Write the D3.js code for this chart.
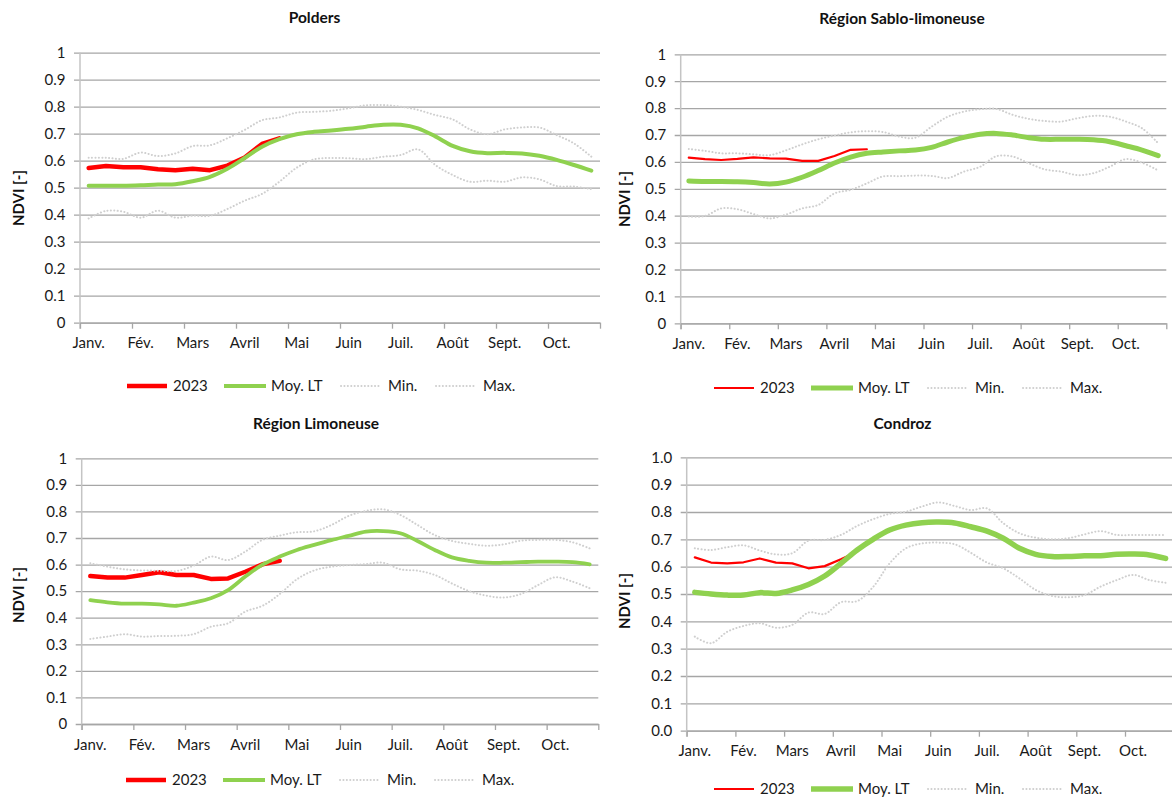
<!DOCTYPE html>
<html>
<head>
<meta charset="utf-8">
<script src="https://cdn.jsdelivr.net/npm/d3@7"></script>
<style>
  body { margin: 0; background: #fff; }
  svg { display: block; font-family: Lato, "Open Sans", sans-serif; }
</style>
</head>
<body>
<svg id="chart" width="1172" height="798"></svg>
<script>
// Month labels; each month is split in three dekads (10-day periods)
const months = ["Janv.", "Fév.", "Mars", "Avril", "Mai", "Juin", "Juil.", "Août", "Sept.", "Oct."];
const dekads = months.flatMap(m => [m + " 1", m + " 2", m + " 3"]);
const yTicks = [0, 0.1, 0.2, 0.3, 0.4, 0.5, 0.6, 0.7, 0.8, 0.9, 1];
const seriesNames = ["2023", "Moy. LT", "Min.", "Max."];
const regionTitles = ["Polders", "Région Sablo-limoneuse", "Région Limoneuse", "Condroz"];

// NDVI per dekad — Polders
const polders2023 = [0.573, 0.580, 0.576, 0.576, 0.568, 0.565, 0.570, 0.565, 0.582, 0.612, 0.662, 0.683];
const poldersMoy = [0.507, 0.507, 0.507, 0.509, 0.512, 0.513, 0.524, 0.540, 0.570, 0.610, 0.652, 0.680, 0.698, 0.707, 0.712, 0.718, 0.726, 0.733, 0.733, 0.720, 0.690, 0.655, 0.635, 0.628, 0.629, 0.627, 0.618, 0.603, 0.584, 0.563];
const poldersMin = [0.386, 0.414, 0.411, 0.389, 0.415, 0.389, 0.396, 0.396, 0.421, 0.452, 0.477, 0.522, 0.574, 0.605, 0.610, 0.609, 0.606, 0.615, 0.621, 0.642, 0.584, 0.547, 0.522, 0.526, 0.522, 0.538, 0.531, 0.506, 0.504, 0.495];
const poldersMax = [0.611, 0.611, 0.607, 0.630, 0.617, 0.627, 0.654, 0.657, 0.683, 0.714, 0.750, 0.760, 0.778, 0.781, 0.785, 0.794, 0.805, 0.806, 0.800, 0.788, 0.769, 0.753, 0.716, 0.698, 0.716, 0.723, 0.723, 0.695, 0.664, 0.615];

// NDVI per dekad — Région Sablo-limoneuse
const sablo2023 = [0.616, 0.610, 0.607, 0.611, 0.617, 0.613, 0.612, 0.604, 0.604, 0.622, 0.645, 0.647];
const sabloMoy = [0.529, 0.527, 0.527, 0.526, 0.523, 0.518, 0.525, 0.543, 0.568, 0.596, 0.618, 0.632, 0.637, 0.641, 0.644, 0.654, 0.674, 0.691, 0.703, 0.706, 0.700, 0.690, 0.684, 0.684, 0.684, 0.682, 0.675, 0.660, 0.644, 0.623];
const sabloMin = [0.397, 0.399, 0.427, 0.424, 0.406, 0.390, 0.404, 0.427, 0.440, 0.483, 0.496, 0.520, 0.546, 0.547, 0.549, 0.548, 0.540, 0.564, 0.582, 0.621, 0.620, 0.595, 0.572, 0.564, 0.551, 0.558, 0.582, 0.610, 0.597, 0.568];
const sabloMax = [0.648, 0.641, 0.632, 0.632, 0.628, 0.625, 0.643, 0.665, 0.684, 0.698, 0.710, 0.714, 0.711, 0.694, 0.690, 0.731, 0.768, 0.787, 0.796, 0.797, 0.775, 0.760, 0.752, 0.750, 0.762, 0.771, 0.768, 0.750, 0.725, 0.669];

// NDVI per dekad — Région Limoneuse
const limon2023 = [0.557, 0.551, 0.551, 0.561, 0.571, 0.561, 0.561, 0.546, 0.548, 0.573, 0.601, 0.614];
const limonMoy = [0.466, 0.458, 0.453, 0.453, 0.450, 0.445, 0.457, 0.473, 0.504, 0.555, 0.600, 0.630, 0.655, 0.674, 0.692, 0.708, 0.724, 0.726, 0.718, 0.689, 0.655, 0.627, 0.614, 0.607, 0.607, 0.609, 0.611, 0.611, 0.609, 0.601];
const limonMin = [0.320, 0.329, 0.338, 0.329, 0.331, 0.332, 0.338, 0.366, 0.379, 0.423, 0.445, 0.489, 0.545, 0.578, 0.592, 0.598, 0.602, 0.607, 0.582, 0.577, 0.561, 0.529, 0.500, 0.483, 0.476, 0.489, 0.523, 0.552, 0.536, 0.511];
const limonMax = [0.605, 0.592, 0.582, 0.578, 0.577, 0.576, 0.596, 0.630, 0.617, 0.649, 0.693, 0.709, 0.722, 0.725, 0.749, 0.783, 0.802, 0.808, 0.787, 0.749, 0.711, 0.689, 0.678, 0.671, 0.676, 0.690, 0.693, 0.693, 0.684, 0.661];

// NDVI per dekad — Condroz
const condroz2023 = [0.634, 0.615, 0.612, 0.616, 0.630, 0.615, 0.612, 0.594, 0.602, 0.627, 0.655];
const condrozMoy = [0.506, 0.500, 0.496, 0.496, 0.505, 0.502, 0.515, 0.535, 0.566, 0.612, 0.661, 0.701, 0.734, 0.752, 0.761, 0.763, 0.760, 0.746, 0.730, 0.704, 0.667, 0.645, 0.637, 0.637, 0.640, 0.640, 0.645, 0.646, 0.643, 0.630];
const condrozMin = [0.344, 0.320, 0.362, 0.383, 0.393, 0.377, 0.387, 0.432, 0.427, 0.470, 0.474, 0.527, 0.612, 0.667, 0.685, 0.688, 0.682, 0.651, 0.615, 0.594, 0.557, 0.515, 0.493, 0.488, 0.496, 0.527, 0.551, 0.570, 0.551, 0.541];
const condrozMax = [0.667, 0.661, 0.671, 0.678, 0.659, 0.645, 0.649, 0.695, 0.698, 0.716, 0.749, 0.774, 0.793, 0.801, 0.820, 0.835, 0.822, 0.807, 0.813, 0.759, 0.722, 0.706, 0.700, 0.704, 0.718, 0.730, 0.716, 0.716, 0.716, 0.716];

const RED = "#ff0000", GREEN = "#8fd14f", GREY = "#cfcfcf";
const LABEL_SIZE = "15px", TITLE_SIZE = "15.5px";

// Panel geometry and styling
const panels = [
  { title: regionTitles[0], data: [polders2023, poldersMoy, poldersMin, poldersMax],
    left: 80, right: 600, top: 52.7, bottom: 322.7, titleX: 314.5, titleY: 18,
    ylabX: 18.5, ylabY: 198, legendX: 127, legendY: 386, redW: 4.5, greenW: 4, fmt: d3.format("") },
  { title: regionTitles[1], data: [sablo2023, sabloMoy, sabloMin, sabloMax],
    left: 680.7, right: 1166.3, top: 54.3, bottom: 323.3, titleX: 902, titleY: 19,
    ylabX: 624.5, ylabY: 199, legendX: 714, legendY: 388, redW: 2.2, greenW: 5, fmt: d3.format("") },
  { title: regionTitles[2], data: [limon2023, limonMoy, limonMin, limonMax],
    left: 81.7, right: 598.3, top: 458.3, bottom: 724, titleX: 316, titleY: 424,
    ylabX: 19, ylabY: 595, legendX: 126, legendY: 780, redW: 4.5, greenW: 3.8, fmt: d3.format("") },
  { title: regionTitles[3], data: [condroz2023, condrozMoy, condrozMin, condrozMax],
    left: 686.7, right: 1173.7, top: 457.3, bottom: 730.7, titleX: 902.5, titleY: 424,
    ylabX: 625, ylabY: 601, legendX: 714, legendY: 789, redW: 2.2, greenW: 5.5, fmt: d3.format(".1f") }
];

const svg = d3.select("#chart");
svg.append("rect").attr("width", 1172).attr("height", 798).attr("fill", "#fff");

panels.forEach(p => {
  const g = svg.append("g");
  const x = d3.scaleBand().domain(dekads).range([p.left, p.right]).padding(0);
  const xTicks = d3.scaleLinear().domain([0, dekads.length]).range([p.left, p.right]);
  const y = d3.scaleLinear().domain([0, 1]).range([p.bottom, p.top]);
  const w = p.right - p.left;

  // Horizontal gridlines with tick labels
  const yAxis = g.append("g").attr("transform", `translate(${p.left},0)`)
    .call(d3.axisLeft(y).tickValues(yTicks).tickFormat(p.fmt).tickSizeInner(-w).tickSizeOuter(0));
  yAxis.select(".domain").remove();
  yAxis.selectAll(".tick line").attr("x1", -6).attr("x2", w).attr("stroke", "#a6a6a6").attr("stroke-width", 1.3);
  yAxis.selectAll(".tick text").attr("x", -14.5).attr("fill", "#1a1a1a")
    .style("font-size", LABEL_SIZE).style("font-family", "Lato, sans-serif");

  // Vertical axis line
  g.append("line").attr("x1", p.left).attr("x2", p.left).attr("y1", p.top).attr("y2", p.bottom + 6)
    .attr("stroke", "#c4c4c4").attr("stroke-width", 1.5);

  // Bottom axis: tick marks at month boundaries
  const xAxisTicks = g.append("g").attr("transform", `translate(0,${p.bottom})`)
    .call(d3.axisBottom(xTicks).tickValues(d3.range(0, dekads.length + 1, 3)).tickFormat("").tickSizeOuter(0).tickSizeInner(6));
  xAxisTicks.select(".domain").attr("stroke", "#a6a6a6").attr("stroke-width", 1.3);
  xAxisTicks.selectAll(".tick line").attr("stroke", "#a6a6a6").attr("stroke-width", 1.3);

  // Month labels on the first dekad of each month
  const xAxis = g.append("g").attr("transform", `translate(0,${p.bottom})`)
    .call(d3.axisBottom(x).tickValues(dekads.filter((d, i) => i % 3 === 0))
      .tickFormat(d => d.slice(0, d.lastIndexOf(" "))).tickSize(0));
  xAxis.select(".domain").remove();
  xAxis.selectAll(".tick text").attr("y", 20.5).attr("dy", "0.35em").attr("fill", "#1a1a1a")
    .style("font-size", LABEL_SIZE).style("font-family", "Lato, sans-serif");

  // Series
  const cx = i => x(dekads[i]) + x.bandwidth() / 2;
  const smooth = d3.line().x((d, i) => cx(i)).y(d => y(d)).curve(d3.curveCatmullRom.alpha(0.5));
  const straight = d3.line().x((d, i) => cx(i)).y(d => y(d));
  const styles = [
    { stroke: RED, width: p.redW, dash: null, line: straight },
    { stroke: GREEN, width: p.greenW, dash: null, line: smooth },
    { stroke: GREY, width: 2, dash: "0.1,3.3", line: smooth },
    { stroke: GREY, width: 2, dash: "0.1,3.3", line: smooth }
  ];
  p.data.forEach((vals, k) => {
    const s = styles[k];
    g.append("path").datum(vals).attr("d", s.line).attr("fill", "none")
      .attr("stroke", s.stroke).attr("stroke-width", s.width)
      .attr("stroke-linecap", "round").attr("stroke-linejoin", "round")
      .attr("stroke-dasharray", s.dash);
  });

  // Title
  g.append("text").attr("x", p.titleX).attr("y", p.titleY).attr("dy", "0.35em")
    .attr("text-anchor", "middle").attr("font-weight", "bold").attr("fill", "#111")
    .style("font-size", TITLE_SIZE).text(p.title);

  // Vertical axis title
  g.append("text").attr("transform", `translate(${p.ylabX},${p.ylabY}) rotate(-90)`)
    .attr("dy", "0.35em").attr("text-anchor", "middle").attr("font-weight", "bold").attr("fill", "#111")
    .style("font-size", LABEL_SIZE).text("NDVI [-]");

  // Legend
  const offs = [[0, 40, 46], [97, 139, 144], [214, 253, 261], [309, 348, 356]];
  seriesNames.forEach((name, k) => {
    const s = styles[k];
    const o = offs[k];
    g.append("line").attr("x1", p.legendX + o[0]).attr("x2", p.legendX + o[1])
      .attr("y1", p.legendY).attr("y2", p.legendY)
      .attr("stroke", s.stroke).attr("stroke-width", s.width)
      .attr("stroke-linecap", s.dash ? "round" : "butt").attr("stroke-dasharray", s.dash);
    g.append("text").attr("x", p.legendX + o[2]).attr("y", p.legendY).attr("dy", "0.35em")
      .attr("fill", "#1a1a1a").style("font-size", LABEL_SIZE).text(name);
  });
});
</script>
</body>
</html>
